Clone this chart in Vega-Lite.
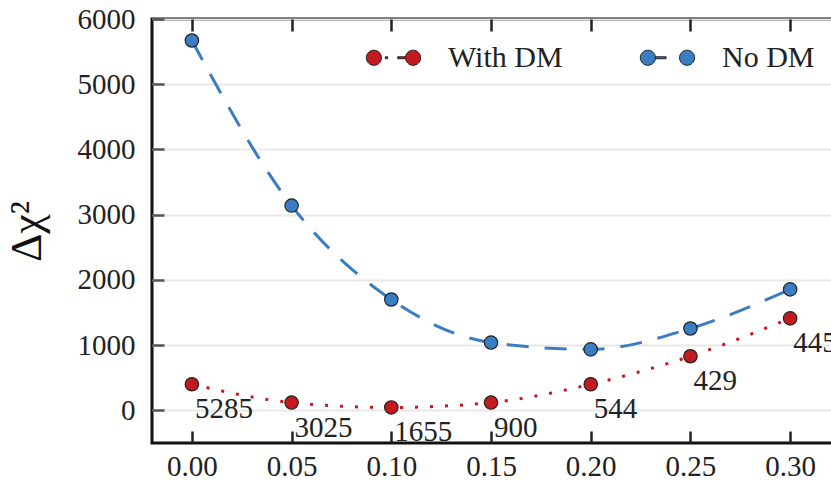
{
  "$schema": "https://vega.github.io/schema/vega-lite/v6.json",
  "width": 688,
  "height": 424,
  "autosize": {"type": "none"},
  "padding": {"left": 152, "top": 19, "right": 0, "bottom": 45},
  "background": "white",
  "config": {
    "view": {"stroke": "#111", "strokeWidth": 3},
    "font": "Liberation Serif",
    "axis": {
      "labelFont": "Liberation Serif",
      "labelFontSize": 29,
      "labelColor": "#222",
      "domain": false,
      "ticks": true,
      "tickColor": "#333",
      "tickWidth": 2.5,
      "tickSize": -12,
      "gridColor": "#e8e8e8",
      "gridWidth": 2,
      "titleFont": "Liberation Serif",
      "titleFontWeight": "normal",
      "titleColor": "#111"
    }
  },
  "datasets": {
    "pts": [
      {"x": 0.00, "series": "No DM", "value": 5670, "label": ""},
      {"x": 0.05, "series": "No DM", "value": 3140, "label": ""},
      {"x": 0.10, "series": "No DM", "value": 1700, "label": ""},
      {"x": 0.15, "series": "No DM", "value": 1040, "label": ""},
      {"x": 0.20, "series": "No DM", "value": 935, "label": ""},
      {"x": 0.25, "series": "No DM", "value": 1255, "label": ""},
      {"x": 0.30, "series": "No DM", "value": 1855, "label": ""},
      {"x": 0.00, "series": "With DM", "value": 400, "label": "5285"},
      {"x": 0.05, "series": "With DM", "value": 120, "label": "3025"},
      {"x": 0.10, "series": "With DM", "value": 45, "label": "1655"},
      {"x": 0.15, "series": "With DM", "value": 120, "label": "900"},
      {"x": 0.20, "series": "With DM", "value": 400, "label": "544"},
      {"x": 0.25, "series": "With DM", "value": 830, "label": "429"},
      {"x": 0.30, "series": "With DM", "value": 1410, "label": "445"}
    ]
  },
  "data": {"name": "pts"},
  "layer": [
    {
      "transform": [{"filter": "datum.series === 'No DM'"}],
      "mark": {"type": "line", "interpolate": "monotone", "color": "#3a7dc2", "strokeWidth": 3, "strokeDash": [22, 16]},
      "encoding": {
        "x": {"field": "x", "type": "quantitative", "scale": {"domain": [-0.02, 0.325], "nice": false, "zero": false},
          "axis": {"values": [0, 0.05, 0.1, 0.15, 0.2, 0.25, 0.3], "format": ".2f", "title": null, "grid": false, "labelPadding": 21, "orient": "bottom", "ticks": true, "tickSize": -12, "tickColor": "#222", "zindex": 1}},
        "y": {"field": "value", "type": "quantitative", "scale": {"domain": [-500, 6000], "nice": false},
          "axis": {"values": [0, 1000, 2000, 3000, 4000, 5000, 6000], "format": "d", "title": "Δχ²", "titleFontSize": 44, "titlePadding": 28, "grid": true, "labelPadding": 29, "ticks": true, "tickSize": -12, "tickColor": "#555"}}
      }
    },
    {
      "transform": [{"filter": "datum.series === 'With DM'"}],
      "mark": {"type": "line", "interpolate": "monotone", "color": "#c21a1f", "strokeWidth": 3, "strokeDash": [3, 12]},
      "encoding": {
        "x": {"field": "x", "type": "quantitative", "axis": null},
        "y": {"field": "value", "type": "quantitative"}
      }
    },
    {
      "mark": {"type": "point", "filled": true, "size": 180, "stroke": "#222", "strokeWidth": 1.2, "opacity": 1},
      "encoding": {
        "x": {"field": "x", "type": "quantitative", "axis": null},
        "y": {"field": "value", "type": "quantitative"},
        "color": {"field": "series", "type": "nominal", "scale": {"domain": ["With DM", "No DM"], "range": ["#c21a1f", "#3a7dc2"]}}
      }
    },
    {
      "transform": [{"filter": "datum.series === 'With DM'"}],
      "mark": {"type": "text", "align": "left", "baseline": "middle", "dx": 3, "dy": 25, "font": "Liberation Serif", "fontSize": 29, "color": "#222"},
      "encoding": {
        "x": {"field": "x", "type": "quantitative", "axis": null},
        "y": {"field": "value", "type": "quantitative"},
        "text": {"field": "label"}
      }
    },
    {
      "transform": [{"filter": "datum.x > 1"}],
      "mark": {"type": "point", "filled": true, "stroke": "#222", "strokeWidth": 1},
      "encoding": {
        "x": {"field": "x", "type": "quantitative",
          "axis": {"orient": "top", "labels": false, "grid": false, "title": null, "values": [0, 0.05, 0.1, 0.15, 0.2, 0.25, 0.3], "ticks": true, "tickSize": -12, "tickColor": "#222", "zindex": 1}},
        "y": {"field": "value", "type": "quantitative"},
        "color": {"field": "series", "type": "nominal",
          "legend": {"orient": "none", "legendX": 213, "legendY": 10, "direction": "horizontal", "columns": 2, "title": null,
            "symbolSize": 3136, "labelFontSize": 30, "labelFont": "Liberation Serif", "labelColor": "#222",
            "labelOffset": 26, "columnPadding": 75, "padding": 0, "symbolStrokeColor": "#222", "symbolStrokeWidth": 1, "symbolOpacity": 1}},
        "shape": {"field": "series", "type": "nominal",
          "scale": {"domain": ["With DM", "No DM"], "range": [
            "M-0.97,0A0.27,0.27 0 1,0 -0.43,0A0.27,0.27 0 1,0 -0.97,0Z M-0.29,-0.035H-0.21V0.035H-0.29Z M0.15,-0.035H0.43V0.035H0.15Z M0.43,0A0.27,0.27 0 1,0 0.97,0A0.27,0.27 0 1,0 0.43,0Z",
            "M-0.97,0A0.27,0.27 0 1,0 -0.43,0A0.27,0.27 0 1,0 -0.97,0Z M-0.43,-0.035H-0.05V0.035H-0.43Z M0.43,0A0.27,0.27 0 1,0 0.97,0A0.27,0.27 0 1,0 0.43,0Z"
          ]}}
      }
    }
  ],
  "resolve": {"axis": {"x": "independent"}}
}
